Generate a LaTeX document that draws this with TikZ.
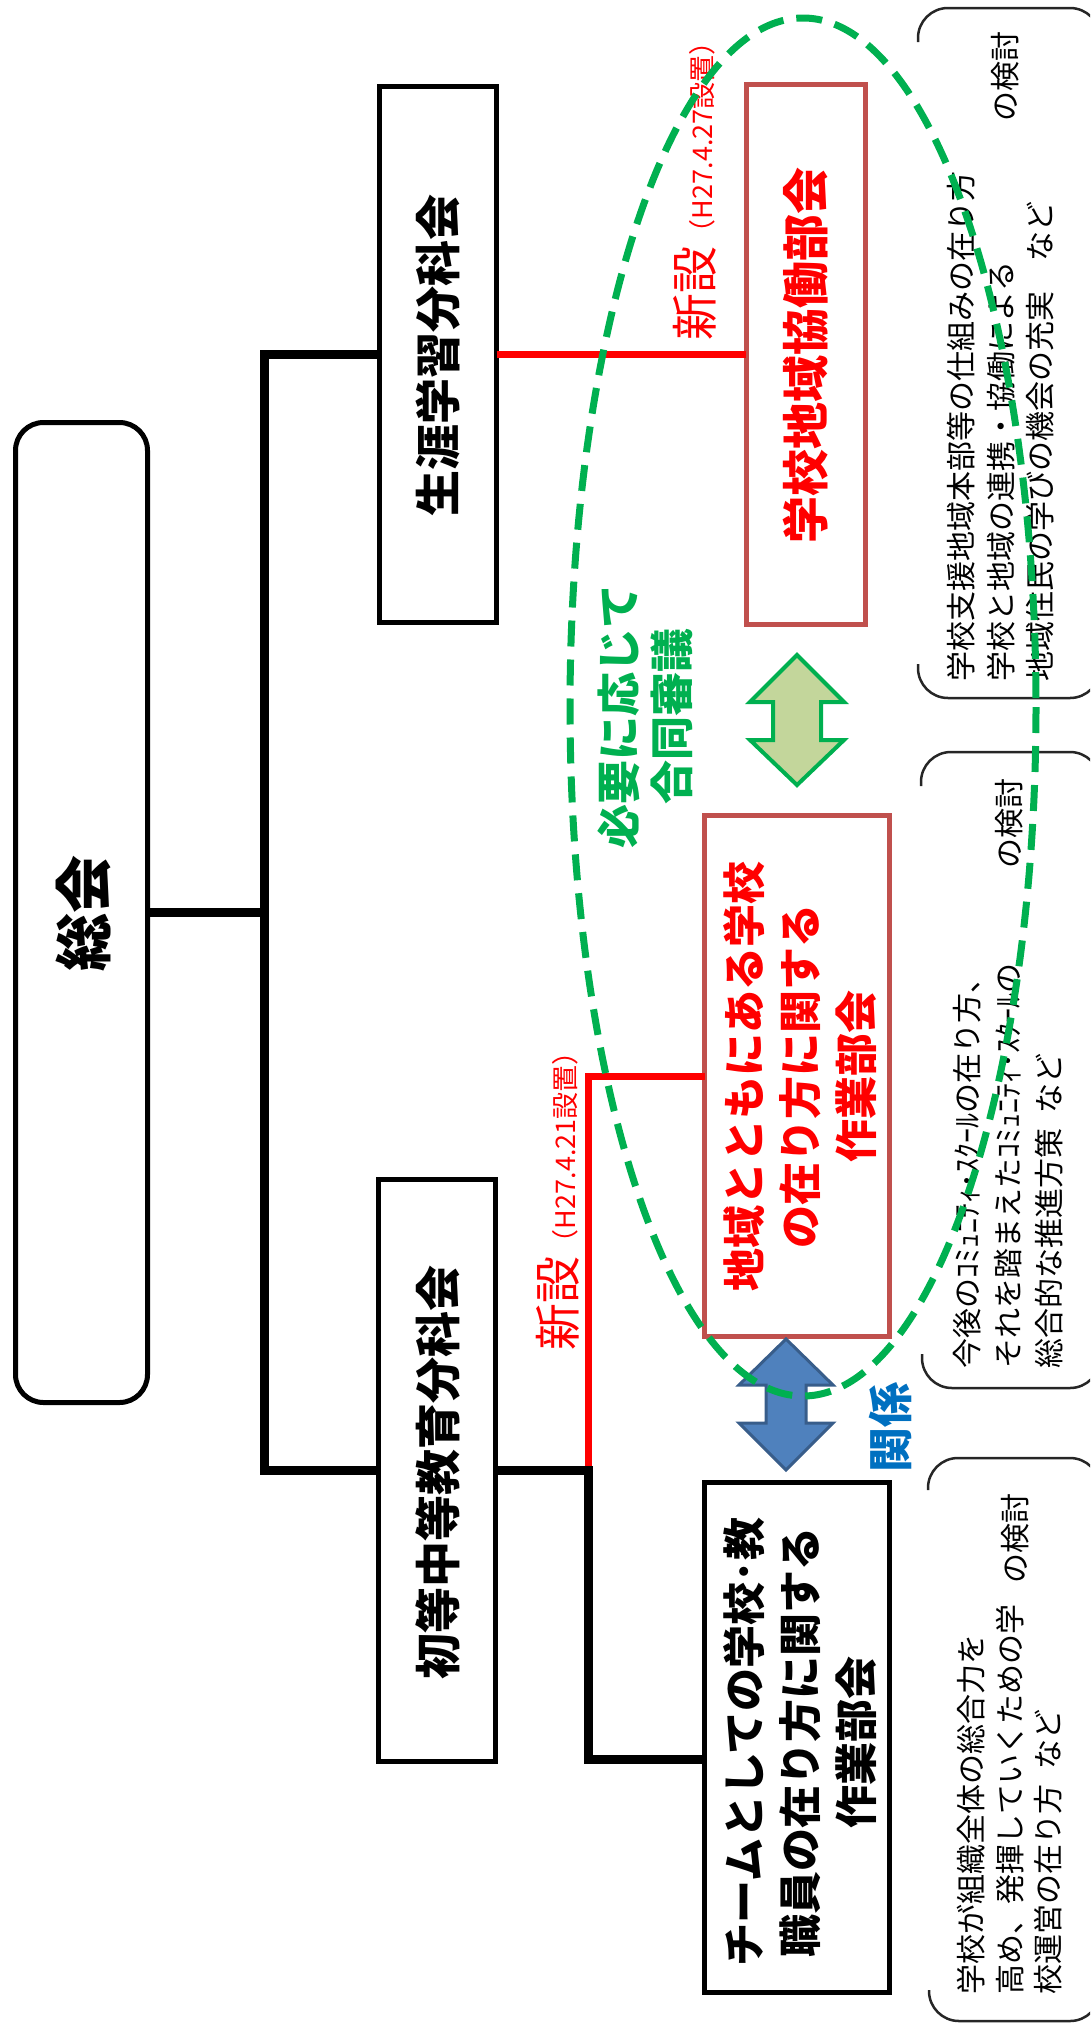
\documentclass[tikz,border=0pt]{standalone}
\usepackage{fontspec}
\newfontfamily\jp{Noto Sans CJK JP}
\definecolor{boxred}{HTML}{C0504D}
\definecolor{agreen}{HTML}{00B050}
\definecolor{lgreen}{HTML}{C3D69B}
\definecolor{ablue}{HTML}{4F81BD}
\definecolor{dblue}{HTML}{385D8A}
\definecolor{tblue}{HTML}{0070C0}
\definecolor{brkc}{HTML}{262626}
\begin{document}
\begin{tikzpicture}[x=1pt,y=-1pt,
  every node/.style={inner sep=0pt, outer sep=0pt},
  box/.style={draw=black, line width=5pt},
  rbox/.style={draw=boxred, line width=5pt},
  vt/.style={rotate=90},
  conn/.style={line width=9pt, draw=black, line join=miter},
  rconn/.style={line width=7pt, draw=red, line join=miter},
  brk/.style={line width=2.5pt, draw=brkc, rounded corners=30pt},
  bigfont/.style={font=\jp\bfseries\fontsize{46}{55}\selectfont},
  subfont/.style={font=\jp\bfseries\fontsize{43}{56}\selectfont, align=center},
  notefont/.style={font=\jp\fontsize{30}{39.5}\selectfont, align=left},
  ell/.style={draw=agreen, line width=7pt, dash pattern=on 26pt off 13pt}
]
\useasboundingbox (0,0) rectangle (1090,2024);
\clip (0,0) rectangle (1090,2024);

% boxes
\node[box, rounded corners=28pt, minimum width=132pt, minimum height=980pt] (sokai) at (81.5,912.5) {};
\node[box, minimum width=117pt, minimum height=536pt] (shogai) at (438,354.5) {};
\node[box, minimum width=117pt, minimum height=582pt] (shoto) at (437,1470.5) {};
\node[rbox, minimum width=119pt, minimum height=540pt] (kyodo) at (805.5,354) {};
\node[rbox, minimum width=185pt, minimum height=521pt] (chiiki) at (797,1076) {};
\node[box, minimum width=185pt, minimum height=510pt] (team) at (797,1737.5) {};

% connectors
\coordinate (trunk) at (264,0);
\coordinate (tj) at (588,1759);
\draw[conn] (shogai.west) -- (shogai.west -| trunk) -- (shoto.west -| trunk) -- (shoto.west);
\draw[conn] (sokai.east) -- (sokai.east -| trunk);
\draw[rconn] (shogai.east) -- (shogai.east -| kyodo.west);
\draw[rconn] (shoto.east -| tj) -- (tj |- chiiki.west) -- (chiiki.west);
\draw[conn] (shoto.east) -- (shoto.east -| tj) -- (tj) -- (tj -| team.west);

% box texts
\node[vt, font=\jp\bfseries\fontsize{58}{58}\selectfont] (sokaiT) at (83,913) {総会};
\node[vt, bigfont] (shogaiT) at (438,355) {生涯学習分科会};
\node[vt, bigfont] (shotoT) at (438,1472) {初等中等教育分科会};
\node[vt, font=\jp\bfseries\fontsize{47}{55}\selectfont, text=red] (kyodoT) at (806,355) {学校地域協働部会};
\node[vt, subfont, text=red] (chiikiT) at (800,1076) {地域とともにある学校\\の在り方に関する\\作業部会};
\node[vt, subfont] (teamT) at (800,1742) {チームとしての学校･教\\職員の在り方に関する\\作業部会};

% new-establishment labels
\node[vt, anchor=base west, text=red] (new1) at (712,340)
  {{\jp\fontsize{47}{47}\selectfont 新設}{\jp\fontsize{27}{27}\selectfont （H27.4.27設置）}};
\node[vt, anchor=base west, text=red] (new2) at (575,1350)
  {{\jp\fontsize{47}{47}\selectfont 新設}{\jp\fontsize{27}{27}\selectfont （H27.4.21設置）}};

% joint deliberation
\node[vt, font=\jp\bfseries\fontsize{44}{53}\selectfont, align=center, text=agreen] (joint) at (645.5,716) {必要に応じて\\合同審議};
\node[vt, font=\jp\bfseries\fontsize{45}{45}\selectfont, text=tblue] (kankei) at (890,1427) {関係};

% block arrows
\draw[line width=4pt, draw=agreen, fill=lgreen, line join=miter]
  (797,655) -- (844,702) -- (821,702) -- (821,740) -- (844,740) -- (797,785)
  -- (750,740) -- (773,740) -- (773,702) -- (750,702) -- cycle;
\draw[line width=3pt, draw=dblue, fill=ablue, line join=miter]
  (786,1339) -- (833,1385) -- (806,1385) -- (806,1423) -- (833,1423) -- (786,1470)
  -- (739,1423) -- (766,1423) -- (766,1385) -- (739,1385) -- cycle;

% brackets
\draw[brk] (918,42) -- (918,8) -- (1100,8) -- (1100,42);
\draw[brk] (918,664) -- (918,698) -- (1100,698) -- (1100,664);
\draw[brk] (921,786) -- (921,752) -- (1100,752) -- (1100,786);
\draw[brk] (922,1354) -- (922,1388) -- (1100,1388) -- (1100,1354);
\draw[brk] (928,1490) -- (928,1458) -- (1100,1458) -- (1100,1490);
\draw[brk] (929,1990) -- (929,2021) -- (1100,2021) -- (1100,1990);

% bracket texts
\node[vt, notefont, anchor=west] (note1) at (1001,681)
  {学校支援地域本部等の仕組みの在り方\\学校と地域の連携・協働による\\地域住民の学びの機会の充実　など};
\node[vt, font=\jp\fontsize{30}{30}\selectfont, anchor=east] (ken1) at (1005,31) {の検討};
\node[vt, notefont, font=\jp\fontsize{30}{41}\selectfont, anchor=west] (note2) at (1008,1368)
  {今後のｺﾐｭﾆﾃｨ･ｽｸｰﾙの在り方、\\それを踏まえたｺﾐｭﾆﾃｨ･ｽｸｰﾙの\\総合的な推進方策\hspace{0.5em}など};
\node[vt, font=\jp\fontsize{30}{30}\selectfont, anchor=east] (ken2) at (1009,778) {の検討};
\node[vt, notefont, font=\jp\fontsize{30}{38.5}\selectfont, anchor=west] (note3) at (1010,1994)
  {学校が組織全体の総合力を\\高め、発揮していくための学\\校運営の在り方\hspace{0.5em}など};
\node[vt, font=\jp\fontsize{30}{30}\selectfont, anchor=east] (ken3) at (1015,1493) {の検討};

% dashed ellipse
\draw[ell] (803,707) ellipse [x radius=233, y radius=689];
\end{tikzpicture}
\end{document}
